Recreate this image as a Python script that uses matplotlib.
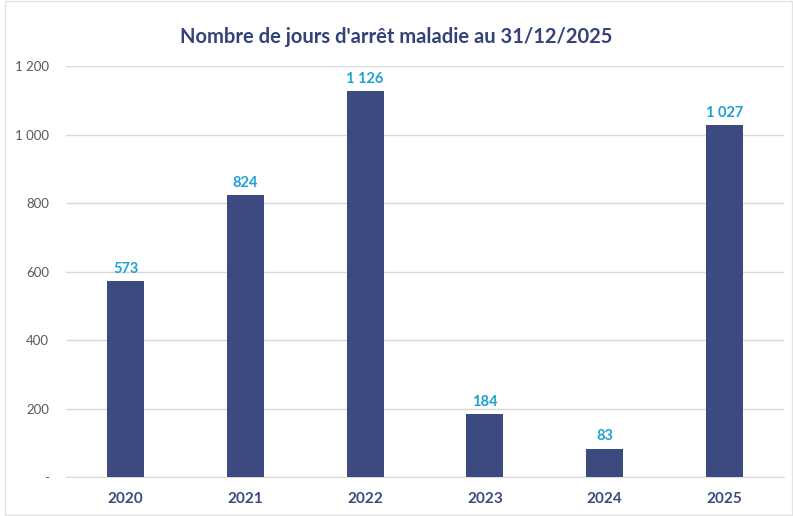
import matplotlib.pyplot as plt
from matplotlib.patches import Rectangle

years = ["2020", "2021", "2022", "2023", "2024", "2025"]
jours = [573, 824, 1126, 184, 83, 1027]
y_ticks = [0, 200, 400, 600, 800, 1000, 1200]
y_labels = ["-", "200", "400", "600", "800", "1 000", "1 200"]

bar_color = "#3C4A80"
label_color = "#1FA0D5"
title_color = "#34427A"

plt.rcParams["font.family"] = ["Lato", "DejaVu Sans"]

fig = plt.figure(figsize=(7.93, 5.16), dpi=100)
ax = fig.add_axes([0.083, 0.0756, 0.906, 0.7964])

x = range(len(years))
bars = ax.bar(x, jours, width=0.31, color=bar_color, zorder=3)
for xi, v in zip(x, jours):
    ax.text(xi, v + 15, f"{v:,}".replace(",", " "), ha="center", va="bottom",
            color=label_color, fontsize=10.5, fontweight="bold")

ax.set_xlim(-0.5, len(years) - 0.5)
ax.set_ylim(0, 1200)
ax.set_yticks(y_ticks)
ax.set_yticklabels(y_labels, color="#595959", fontsize=9.5)
ax.set_xticks(list(x))
ax.set_xticklabels(years, color=bar_color, fontsize=11, fontweight="bold")
ax.tick_params(axis="y", length=0, pad=12)
ax.tick_params(axis="x", length=0, pad=11)
ax.grid(axis="y", color="#D9D9D9", linewidth=1, zorder=0)
for s in ["top", "right", "left"]:
    ax.spines[s].set_visible(False)
ax.spines["bottom"].set_color("#D9D9D9")

fig.text(0.5, 0.928, "Nombre de jours d'arrêt maladie au 31/12/2025",
         ha="center", va="center", color=title_color, fontsize=14.5,
         fontweight="bold")

fig.patches.append(Rectangle((0.006, 0.001), 0.993, 0.998, transform=fig.transFigure,
                             fill=False, edgecolor="#E3E3E3", linewidth=1))

fig.savefig("out.png", dpi=100)
